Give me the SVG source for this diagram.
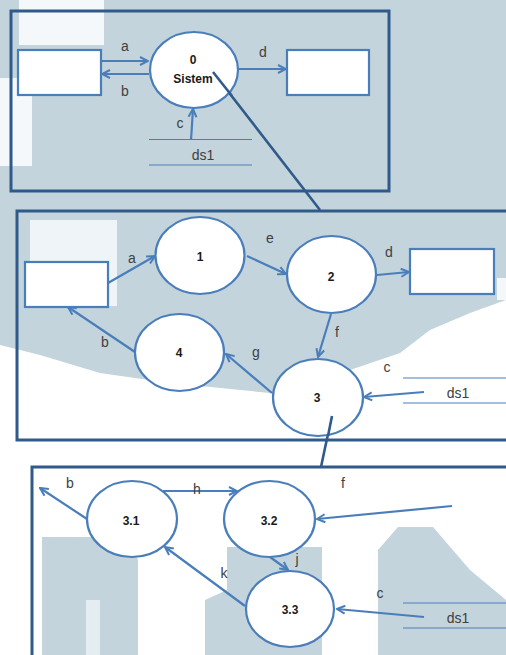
<svg xmlns="http://www.w3.org/2000/svg" width="506" height="655" viewBox="0 0 506 655">
<style>
.node{fill:#fff;stroke:#4a7ebb;stroke-width:2.2}
.conn{fill:none;stroke:#4a7ebb;stroke-width:2.2}
.store{stroke:#4a7ebb;stroke-width:1.2}
.frame{fill:none;stroke:#2f5a8a;stroke-width:3}
.link{stroke:#2f5a8a;stroke-width:2.6}
.num{font-family:"Liberation Sans",Arial,sans-serif;font-size:12px;font-weight:bold;fill:#1a1a1a;text-anchor:middle}
.lbl{font-family:"Liberation Sans",Arial,sans-serif;font-size:14px;fill:#404040;text-anchor:middle}
.wm{fill:#c3d4dc}
</style>
<defs>
<marker id="arr" viewBox="0 0 10 10" refX="9" refY="5" markerWidth="10" markerHeight="10" markerUnits="userSpaceOnUse" orient="auto">
<path d="M1,1 L9,5 L1,9" fill="none" stroke="#4a7ebb" stroke-width="2"/>
</marker>
</defs>
<rect width="506" height="655" fill="#fff"/>
<g id="watermark">
<path class="wm" d="M0,0 H506 V300 L470,313 L430,330 L400,353 L350,370 L300,390 L270,393 L170,383 L100,373 L40,355 L0,345 Z"/>
<rect x="19" y="0" width="85" height="45" fill="#f4f8fa"/>
<rect x="0" y="78" width="32" height="88" fill="#f4f8fa"/>
<rect x="30" y="220" width="87" height="86" fill="#eef4f7"/>
<path d="M497,300 V278 H506 V300 Z" fill="#f4f8fa"/>
<path class="wm" d="M42,655 V537 H128 L138,560 V655 Z"/>
<rect x="86" y="600" width="14" height="55" fill="#e4edf1"/>
<path class="wm" d="M205,655 V600 L227,590 V547 H322 V655 Z"/>
<path class="wm" d="M378,655 V550 L398,527 H433 L470,570 L506,600 V655 Z"/>
</g>
<rect class="frame" x="11" y="11" width="378" height="180"/>
<rect class="frame" x="17" y="211" width="500" height="229"/>
<rect class="frame" x="32" y="467" width="490" height="200"/>
<g id="connectors">
<line class="link" x1="213" y1="72" x2="320" y2="210"/>
<polyline class="link" fill="none" points="332,416 325,448 321,467"/>
<line class="conn" x1="101" y1="61" x2="148" y2="61" marker-end="url(#arr)"/>
<line class="conn" x1="149" y1="74" x2="102" y2="74" marker-end="url(#arr)"/>
<line class="conn" x1="238" y1="69" x2="286" y2="69" marker-end="url(#arr)"/>
<line class="conn" x1="191" y1="140" x2="193" y2="109" marker-end="url(#arr)"/>
<line class="conn" x1="108" y1="283" x2="155" y2="256" marker-end="url(#arr)"/>
<line class="conn" x1="247" y1="256" x2="286" y2="274" marker-end="url(#arr)"/>
<line class="conn" x1="377" y1="275" x2="409" y2="272" marker-end="url(#arr)"/>
<line class="conn" x1="331" y1="314" x2="318" y2="357" marker-end="url(#arr)"/>
<line class="conn" x1="272" y1="393" x2="226" y2="354" marker-end="url(#arr)"/>
<line class="conn" x1="135" y1="352" x2="68" y2="307" marker-end="url(#arr)"/>
<line class="conn" x1="424" y1="392" x2="364" y2="397" marker-end="url(#arr)"/>
<line class="conn" x1="87" y1="519" x2="40" y2="488" marker-end="url(#arr)"/>
<line class="conn" x1="163" y1="491" x2="237" y2="491" marker-end="url(#arr)"/>
<line class="conn" x1="452" y1="506" x2="317" y2="519" marker-end="url(#arr)"/>
<line class="conn" x1="270" y1="557" x2="288" y2="570" marker-end="url(#arr)"/>
<line class="conn" x1="245" y1="606" x2="165" y2="547" marker-end="url(#arr)"/>
<line class="conn" x1="424" y1="617" x2="337" y2="609" marker-end="url(#arr)"/>
<text class="lbl" x="125" y="51">a</text>
<text class="lbl" x="125" y="96">b</text>
<text class="lbl" x="263" y="57">d</text>
<text class="lbl" x="180" y="128">c</text>
<text class="lbl" x="132" y="263">a</text>
<text class="lbl" x="270" y="243">e</text>
<text class="lbl" x="389" y="257">d</text>
<text class="lbl" x="337" y="337">f</text>
<text class="lbl" x="256" y="357">g</text>
<text class="lbl" x="105" y="347">b</text>
<text class="lbl" x="387" y="372">c</text>
<text class="lbl" x="70" y="488">b</text>
<text class="lbl" x="197" y="494">h</text>
<text class="lbl" x="343" y="488">f</text>
<text class="lbl" x="297" y="564">j</text>
<text class="lbl" x="224" y="578">k</text>
<text class="lbl" x="380" y="598">c</text>
</g>
<g id="ext-left-0"><rect class="node" x="18" y="50" width="83" height="45"/></g>
<g id="ext-right-0"><rect class="node" x="287" y="50" width="82" height="45"/></g>
<g id="proc-0"><ellipse class="node" cx="194" cy="70" rx="44" ry="38"/>
<text class="num" x="193" y="64">0</text><text class="num" x="193" y="83">Sistem</text></g>
<g id="ds1-0"><line class="store" x1="149" y1="139.5" x2="252" y2="139.5"/><line class="store" x1="149" y1="165" x2="252" y2="165"/>
<text class="lbl" x="203" y="160">ds1</text></g>
<g id="ext-left-1"><rect class="node" x="25" y="262" width="83" height="45"/></g>
<g id="ext-right-1"><rect class="node" x="410" y="249" width="84" height="45"/></g>
<g id="proc-1"><ellipse class="node" cx="200" cy="255.5" rx="44.5" ry="38.5"/><text class="num" x="200" y="261">1</text></g>
<g id="proc-2"><ellipse class="node" cx="331.5" cy="274.5" rx="44.5" ry="38.5"/><text class="num" x="331" y="281">2</text></g>
<g id="proc-4"><ellipse class="node" cx="179.5" cy="352.5" rx="44.5" ry="38.5"/><text class="num" x="179" y="357">4</text></g>
<g id="proc-3"><ellipse class="node" cx="318" cy="397.5" rx="45" ry="38.5"/><text class="num" x="317" y="402">3</text></g>
<g id="ds1-1"><line class="store" x1="403" y1="378" x2="506" y2="378"/><line class="store" x1="403" y1="403" x2="506" y2="403"/>
<text class="lbl" x="458" y="398">ds1</text></g>
<g id="proc-3-1"><ellipse class="node" cx="132" cy="519" rx="45" ry="38"/><text class="num" x="131" y="525">3.1</text></g>
<g id="proc-3-2"><ellipse class="node" cx="269.5" cy="519" rx="45.5" ry="38"/><text class="num" x="269" y="525">3.2</text></g>
<g id="proc-3-3"><ellipse class="node" cx="290" cy="609" rx="44" ry="38"/><text class="num" x="290" y="614">3.3</text></g>
<g id="ds1-2"><line class="store" x1="403" y1="603" x2="506" y2="603"/><line class="store" x1="403" y1="628" x2="506" y2="628"/>
<text class="lbl" x="458" y="623">ds1</text></g>
<line class="link" x1="213" y1="72" x2="232" y2="96"/>
<line class="link" x1="332" y1="416" x2="328" y2="436"/>
</svg>
